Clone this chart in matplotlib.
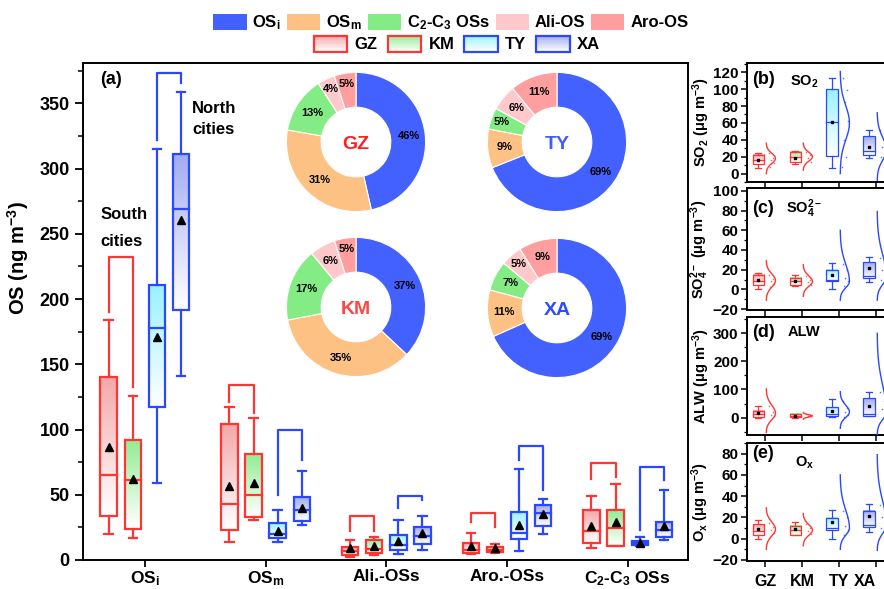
import numpy as np
import matplotlib
matplotlib.use('Agg')
import matplotlib.pyplot as plt
import matplotlib.colors as mcolors
from matplotlib.patches import Rectangle
from matplotlib.legend_handler import HandlerBase
from matplotlib.ticker import MultipleLocator

plt.rcParams['font.family'] = ['Liberation Sans', 'DejaVu Sans']
plt.rcParams['font.weight'] = 'bold'
plt.rcParams['axes.labelweight'] = 'bold'
plt.rcParams['mathtext.fontset'] = 'custom'
plt.rcParams['mathtext.rm'] = 'Liberation Sans:bold'
plt.rcParams['mathtext.it'] = 'Liberation Sans:bold'
plt.rcParams['mathtext.bf'] = 'Liberation Sans:bold'
plt.rcParams['mathtext.default'] = 'rm'

# ---- data ----
cities = ['GZ', 'KM', 'TY', 'XA']
os_groups = ['OS$_i$', 'OS$_m$', 'Ali.-OSs', 'Aro.-OSs', 'C$_2$-C$_3$ OSs']

# per group: whisker low, Q1, median, Q3, whisker high, mean  (ng m-3)
gz_os = [[20, 34, 65, 140, 184, 87], [14, 23, 43, 104, 117, 57], [2.5, 4, 7, 10, 15, 9],
         [4.5, 5, 8, 13, 20.5, 11], [9, 13, 22, 38, 49, 26]]
km_os = [[17, 24, 61, 92, 126, 62], [31, 33, 50, 81, 109, 59], [4, 5.5, 8.5, 15, 18, 11],
         [5, 6, 8, 10, 12, 9], [11, 11, 24.5, 38, 58, 29]]
ty_os = [[59, 117, 178, 211, 315, 171], [14, 17, 20, 28, 38, 22], [4.5, 7.5, 11.5, 19.5, 31, 14.5],
         [7, 16, 21, 37, 70, 27], [11, 11.5, 13, 14.5, 18, 13]]
xa_os = [[141, 192, 269, 311, 359, 261], [27, 30, 38, 48, 68, 40], [8, 12.5, 18.5, 25, 34, 20.5],
         [20, 26, 36, 42, 47, 35], [15, 18, 23, 29, 54, 26]]

# bracket heights: top, left leg end, right leg end
south_top = [232, 134, 34, 36, 74]
south_left_end = [190, 121, 22, 29, 62]
south_right_end = [133, 113, 22, 25, 64]
north_top = [373, 100, 49, 87.5, 71]
north_left_end = [322, 50, 40, 77, 23]
north_right_end = [366, 77, 46, 54, 61]

# donut shares (%)
pie_parts = ['OS$_i$', 'OS$_m$', 'C$_2$-C$_3$ OSs', 'Ali-OS', 'Aro-OS']
gz_share = [46, 31, 13, 4, 5]
km_share = [37, 35, 17, 6, 5]
ty_share = [69, 9, 5, 6, 11]
xa_share = [69, 11, 7, 5, 9]

# side panels: per city [low, Q1, median, Q3, high, mean]; curve [low end, mode, high end]
so2_stats = [[7, 11, 16, 22, 24, 16], [11, 14, 20, 26, 27, 19],
             [7, 21, 61, 100, 113, 61], [19, 22, 27, 44, 52, 32]]
so2_curve = [[0, 18, 36], [4, 20, 36], [0, 60, 121], [-8, 28, 72]]
so2_dots = [[24, 19, 16, 12, 8], [26, 22, 18, 14], [113, 99, 85, 62, 40, 20, 8], [52, 40, 32, 24, 20]]

so4_stats = [[0, 4, 8, 14.5, 17, 9], [3, 4, 8, 12, 15, 8.5],
             [0, 8, 10, 20, 27, 15], [7, 12, 14, 27.5, 33, 22]]
so4_curve = [[-11, 9, 29], [-7, 8, 25], [-11, 8, 60], [-11, 13, 79]]
so4_dots = [[15, 11, 8, 5, 2], [14, 10, 7, 4], [26, 20, 12, 8, 3], [32, 27, 20, 14, 10]]

alw_stats = [[0, 2, 12, 24, 41, 15], [0, 1, 6, 12, 13, 7],
             [1, 4, 14, 36, 66, 22], [4, 5, 12, 69, 90, 40]]
alw_curve = [[-53, 15, 102], [-6, 6, 18], [-38, 20, 92], [-60, 20, 300]]
alw_dots = [[40, 20, 10, 5], [12, 8, 4], [60, 35, 20, 10, 3], [90, 60, 30, 10]]

ox_stats = [[0, 3.8, 7.5, 14, 18, 9], [3, 3.8, 8, 12.3, 15.7, 8.8],
            [0, 8, 10, 19.5, 27, 15.4], [6.3, 11, 13, 26.4, 32.4, 21.7]]
ox_curve = [[-10, 9, 29], [-6.6, 8, 23.6], [-10, 10, 60], [-11, 13, 79]]
ox_dots = [[15, 11, 8, 5, 2], [14, 10, 7, 4], [26, 20, 12, 8, 3], [32, 27, 20, 14, 10]]

# ---- styles ----
fill_top = {'GZ': '#f4a8a8', 'KM': '#94ec94', 'TY': '#98f2ff', 'XA': '#a2acf2'}
edge_col = {'GZ': '#ff3535', 'KM': '#ff3535', 'TY': '#2a48ff', 'XA': '#2a48ff'}
part_col = ['#4361ff', '#fdc283', '#84ec84', '#ffc9cc', '#ff9e9e']
center_col = {'GZ': '#ff1f1f', 'KM': '#ff4545', 'TY': '#3f5cff', 'XA': '#2f4cff'}
RED, BLUE = '#ff3535', '#2a48ff'


def grad_box(ax, x, w, q1, q3, top, edge, lw):
    t = np.linspace(0, 1, 64)[:, None, None]
    img = np.array(mcolors.to_rgb(top))[None, None, :] * (1 - t) + t
    ax.imshow(img, extent=[x - w / 2, x + w / 2, q1, q3], aspect='auto',
              origin='upper', interpolation='bilinear', zorder=2)
    ax.add_patch(Rectangle((x - w / 2, q1), w, q3 - q1, fill=False,
                           edgecolor=edge, lw=lw, zorder=3))


def draw_box(ax, x, stats, city, w, cap, lw, marker, ms):
    lo, q1, med, q3, hi, mean = stats
    c = edge_col[city]
    grad_box(ax, x, w, q1, q3, fill_top[city], c, lw)
    ax.plot([x - w / 2, x + w / 2], [med, med], color=c, lw=lw, zorder=4)
    ax.plot([x, x], [q3, hi], color=c, lw=lw, zorder=3)
    ax.plot([x, x], [lo, q1], color=c, lw=lw, zorder=3)
    ax.plot([x - cap / 2, x + cap / 2], [hi, hi], color=c, lw=lw, zorder=3)
    ax.plot([x - cap / 2, x + cap / 2], [lo, lo], color=c, lw=lw, zorder=3)
    ax.plot(x, mean, marker=marker, color='black', ms=ms, zorder=5, ls='none')


fig = plt.figure(figsize=(8.84, 5.89), dpi=100)
W, H = 884, 589

# ---- panel (a) ----
ax = fig.add_axes([83 / W, 29 / H, 605 / W, 497 / H])
offsets = [-0.3, -0.1, 0.1, 0.3]
all_os = [gz_os, km_os, ty_os, xa_os]
for g in range(len(os_groups)):
    xg = g + 1
    for k, city in enumerate(cities):
        draw_box(ax, xg + offsets[k], all_os[k][g], city, 0.136, 0.07, 1.6, '^', 6)
    ax.plot([xg - 0.3, xg - 0.3, xg - 0.1, xg - 0.1],
            [south_left_end[g], south_top[g], south_top[g], south_right_end[g]],
            color=RED, lw=1.6, zorder=3)
    ax.plot([xg + 0.1, xg + 0.1, xg + 0.3, xg + 0.3],
            [north_left_end[g], north_top[g], north_top[g], north_right_end[g]],
            color=BLUE, lw=1.6, zorder=3)

ax.set_xlim(0.487, 5.5)
ax.set_ylim(0, 381)
ax.set_xticks(range(1, 6))
ax.set_xticklabels(os_groups, fontsize=12.5)
ax.yaxis.set_major_locator(MultipleLocator(50))
ax.yaxis.set_minor_locator(MultipleLocator(25))
ax.tick_params(axis='y', labelsize=13, length=6, width=1.3)
ax.tick_params(axis='y', which='minor', length=3.5, width=1.1)
ax.tick_params(axis='x', length=5, width=1.3, pad=1.5)
ax.set_ylabel('OS (ng m$^{-3}$)', fontsize=14.5)
ax.yaxis.set_label_coords(-0.086, 0.608)
for s in ax.spines.values():
    s.set_linewidth(1.4)
ax.text(0.028, 0.966, '(a)', transform=ax.transAxes, fontsize=13, va='center')
ax.text(0.63, 265, 'South', fontsize=12, va='center')
ax.text(0.63, 244, 'cities', fontsize=12, va='center')
ax.text(1.39, 346, 'North', fontsize=12, va='center')
ax.text(1.39, 330, 'cities', fontsize=12, va='center')

# ---- donuts ----
pie_centers = {'GZ': (356, 142), 'TY': (557, 142), 'KM': (356, 307), 'XA': (557, 308)}
shares = {'GZ': gz_share, 'KM': km_share, 'TY': ty_share, 'XA': xa_share}
R = 71
for city, (cx, cy) in pie_centers.items():
    pax = fig.add_axes([(cx - R) / W, (H - cy - R) / H, 2 * R / W, 2 * R / H])
    vals = shares[city]
    wedges, _ = pax.pie(vals, colors=part_col, startangle=90, counterclock=False,
                        radius=1, wedgeprops=dict(width=0.5, edgecolor='white', linewidth=0.8))
    for wdg, v in zip(wedges, vals):
        ang = np.deg2rad((wdg.theta1 + wdg.theta2) / 2)
        r = 0.84 if v <= 5 else 0.76
        pax.text(r * np.cos(ang), r * np.sin(ang), f'{v}%', ha='center', va='center',
                 fontsize=8)
    pax.text(0, -0.04, city, ha='center', va='center', fontsize=14, color=center_col[city])
    pax.set_xlim(-1.02, 1.02)
    pax.set_ylim(-1.02, 1.02)
    pax.set_aspect('equal')
    pax.axis('off')

# ---- side panels ----
side = [
    (so2_stats, so2_curve, so2_dots, (-10, 131), 20, 10, 'SO$_2$ (μg m$^{-3}$)', '(b)', 'SO$_2$',
     (63, 182), 0.86, 0.84),
    (so4_stats, so4_curve, so4_dots, (-21, 103), 20, 10, 'SO$_4^{2-}$ (μg m$^{-3}$)', '(c)', 'SO$_4^{2-}$',
     (188, 310), 0.836, 0.83),
    (alw_stats, alw_curve, alw_dots, (-62, 358), 100, 50, 'ALW (μg m$^{-3}$)', '(d)', 'ALW',
     (317, 435), 0.87, 0.87),
    (ox_stats, ox_curve, ox_dots, (-21, 90), 20, 10, 'O$_x$ (μg m$^{-3}$)', '(e)', 'O$_x$',
     (443, 561), 0.915, 0.83),
]
dot_dx = [0.1, 0.2, 0.14, 0.24, 0.12, 0.18, 0.08]
for n, (stats, curves, dots, ylim, major, minor, ylab, tag, title, (top, bot), tag_y, title_y) in enumerate(side):
    sax = fig.add_axes([747 / W, (H - bot) / H, 159 / W, (bot - top) / H])
    for k, city in enumerate(cities):
        pos = k + 1
        draw_box(sax, pos - 0.2, stats[k], city, 0.3, 0.15, 0.9, 's', 2)
        lo, mode, hi = curves[k]
        ys = np.linspace(lo, hi, 120)
        sd = np.where(ys < mode, (mode - lo) / 3.0, (hi - mode) / 3.0)
        xs = pos + 0.02 + 0.25 * np.exp(-0.5 * ((ys - mode) / sd) ** 2)
        sax.plot(xs, ys, color=edge_col[city], lw=1.0, zorder=3)
        for j, d in enumerate(dots[k]):
            sax.plot(pos + dot_dx[j % len(dot_dx)], d, marker='s', ms=1.0, mew=0,
                     color=edge_col[city], alpha=0.8, ls='none', zorder=3)
    sax.set_xlim(0.5, 4.8)
    sax.set_ylim(*ylim)
    sax.set_xticks(range(1, 5))
    if n == 3:
        sax.set_xticklabels(cities, fontsize=11.5)
        # the panel runs past the figure edge: keep the last label inside
        sax.get_xticklabels()[-1].set_horizontalalignment('right')
    else:
        sax.set_xticklabels([])
    sax.yaxis.set_major_locator(MultipleLocator(major))
    sax.yaxis.set_minor_locator(MultipleLocator(minor))
    sax.tick_params(axis='y', labelsize=11, length=4, width=1.1, pad=2)
    sax.tick_params(axis='y', which='minor', length=2.5, width=0.9)
    sax.tick_params(axis='x', length=4, width=1.1, pad=5)
    sax.set_ylabel(ylab, fontsize=10.5, labelpad=1)
    for s in sax.spines.values():
        s.set_linewidth(1.4)
    sax.text(0.03, tag_y, tag, transform=sax.transAxes, fontsize=13, va='center')
    sax.text(0.36, title_y, title, transform=sax.transAxes, fontsize=10.5, va='center', ha='center')


# ---- legends ----
class GradientHandler(HandlerBase):
    def __init__(self, top, edge):
        super().__init__()
        self.top = np.array(mcolors.to_rgb(top))
        self.edge = edge

    def create_artists(self, legend, orig_handle, xdescent, ydescent, width, height, fontsize, trans):
        arts = []
        n = 20
        for k in range(n):
            f = (k + 0.5) / n
            c = 1 - f * (1 - self.top)
            arts.append(Rectangle((-xdescent, -ydescent + k * height / n), width, height / n * 1.05,
                                  facecolor=c, edgecolor='none', transform=trans))
        arts.append(Rectangle((-xdescent, -ydescent), width, height, facecolor='none',
                              edgecolor=self.edge, lw=1.6, transform=trans))
        return arts


part_handles = [Rectangle((0, 0), 1, 1, facecolor=c, edgecolor='none') for c in part_col]
fig.legend(part_handles, pie_parts, loc='center', bbox_to_anchor=(0.51, 1 - 22.7 / H), ncol=5,
           frameon=False, fontsize=12, handlelength=2.0, handleheight=1.1, handletextpad=0.35,
           columnspacing=0.35)
city_handles = [Rectangle((0, 0), 1, 1) for _ in cities]
hmap = {h: GradientHandler(fill_top[c], edge_col[c]) for h, c in zip(city_handles, cities)}
fig.legend(city_handles, cities, loc='center', bbox_to_anchor=(0.517, 1 - 44 / H), ncol=4,
           frameon=False, fontsize=12, handlelength=2.0, handleheight=1.1, handletextpad=0.45,
           columnspacing=0.6, handler_map=hmap)

fig.savefig('out.png', dpi=100)
